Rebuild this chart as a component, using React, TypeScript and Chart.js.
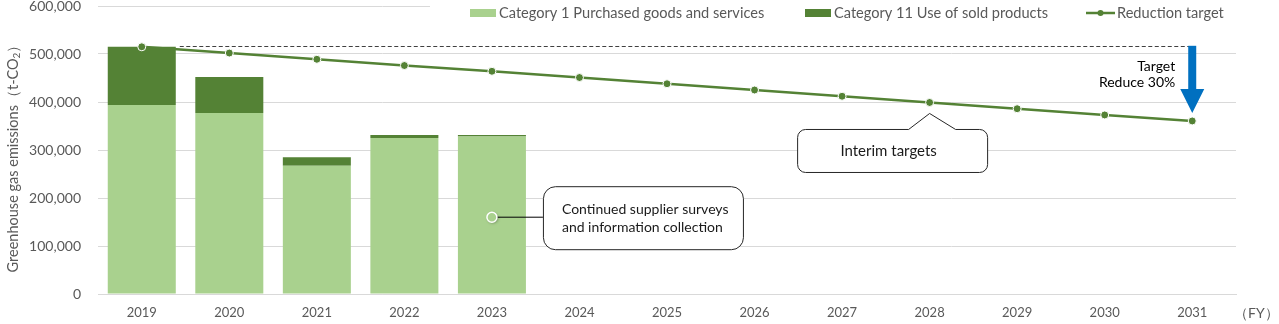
import React, { useEffect, useRef } from "react";
import { Chart, registerables } from "chart.js";

Chart.register(...registerables);

const years = ["2019", "2020", "2021", "2022", "2023", "2024", "2025", "2026", "2027", "2028", "2029", "2030", "2031"];
const category1 = [394000, 377000, 267000, 325000, 328000, null, null, null, null, null, null, null, null];
const category11 = [121000, 75000, 18000, 6000, 3000, null, null, null, null, null, null, null, null];
const reductionTarget = [515000, 502000, 489000, 476000, 464000, 451000, 438000, 425000, 412000, 399000, 386000, 373000, 360500];
const yTickValues = [0, 100000, 200000, 300000, 400000, 500000, 600000];

const legendLabels = ["Category 1 Purchased goods and services", "Category 11 Use of sold products", "Reduction target"];
const yTitle = ["Greenhouse gas emissions（t-CO", "2", "）"];
const xUnit = "（FY）";
const targetNote = ["Target", "Reduce 30%"];
const interimNote = "Interim targets";
const interimIndex = 9;
const supplierNote = ["Continued supplier surveys", "and information collection"];
const supplierIndex = 4;
const supplierValue = 160000;

const LIGHT = "#A9D18E";
const DARK = "#548235";
const GRAY = "#595959";
const FONT = "Lato, 'Open Sans', sans-serif";

function roundRectPath(ctx: CanvasRenderingContext2D, x: number, y: number, w: number, h: number, r: number) {
  ctx.moveTo(x + r, y);
  ctx.lineTo(x + w - r, y);
  ctx.arcTo(x + w, y, x + w, y + r, r);
  ctx.lineTo(x + w, y + h - r);
  ctx.arcTo(x + w, y + h, x + w - r, y + h, r);
  ctx.lineTo(x + r, y + h);
  ctx.arcTo(x, y + h, x, y + h - r, r);
  ctx.lineTo(x, y + r);
  ctx.arcTo(x, y, x + r, y, r);
  ctx.closePath();
}

const overlay = {
  id: "overlay",
  afterDraw(chart: any) {
    const { ctx, scales } = chart;
    const xs = scales.x;
    const ys = scales.y;
    ctx.save();

    // Dashed baseline from 2019 level
    const y0 = ys.getPixelForValue(reductionTarget[0]);
    const xLast = xs.getPixelForValue(years.length - 1);
    const bar0 = chart.getDatasetMeta(1).data[0];
    const barRight = bar0.x + bar0.width / 2;
    ctx.beginPath();
    ctx.setLineDash([4, 2.5]);
    ctx.strokeStyle = "#404040";
    ctx.lineWidth = 1;
    ctx.moveTo(barRight + 4, Math.round(y0) - 0.5);
    ctx.lineTo(xLast, Math.round(y0) - 0.5);
    ctx.stroke();
    ctx.setLineDash([]);

    // Blue arrow
    const yEnd = ys.getPixelForValue(reductionTarget[reductionTarget.length - 1]);
    const tip = yEnd - 8;
    const headTop = tip - 24;
    ctx.fillStyle = "#0070C0";
    ctx.fillRect(xLast - 4, y0 - 1, 8, headTop - y0 + 2);
    ctx.beginPath();
    ctx.moveTo(xLast - 12, headTop);
    ctx.lineTo(xLast + 12, headTop);
    ctx.lineTo(xLast, tip);
    ctx.closePath();
    ctx.fill();

    // Target text
    ctx.fillStyle = "#000000";
    ctx.font = `14px ${FONT}`;
    ctx.textAlign = "right";
    ctx.textBaseline = "middle";
    ctx.fillText(targetNote[0], xLast - 17, y0 + 20);
    ctx.fillText(targetNote[1], xLast - 17, y0 + 36);

    // Interim targets callout
    const px = xs.getPixelForValue(interimIndex);
    const py = ys.getPixelForValue(reductionTarget[interimIndex]);
    const cTip = py + 11;
    const bTop = cTip + 16;
    const bLeft = px - 132;
    const bW = 190;
    const bH = 43;
    const r = 8;
    ctx.beginPath();
    ctx.moveTo(bLeft + r, bTop);
    ctx.lineTo(px - 21, bTop);
    ctx.lineTo(px, cTip);
    ctx.lineTo(px + 26, bTop);
    ctx.lineTo(bLeft + bW - r, bTop);
    ctx.arcTo(bLeft + bW, bTop, bLeft + bW, bTop + r, r);
    ctx.lineTo(bLeft + bW, bTop + bH - r);
    ctx.arcTo(bLeft + bW, bTop + bH, bLeft + bW - r, bTop + bH, r);
    ctx.lineTo(bLeft + r, bTop + bH);
    ctx.arcTo(bLeft, bTop + bH, bLeft, bTop + bH - r, r);
    ctx.lineTo(bLeft, bTop + r);
    ctx.arcTo(bLeft, bTop, bLeft + r, bTop, r);
    ctx.closePath();
    ctx.fillStyle = "#ffffff";
    ctx.fill();
    ctx.strokeStyle = "#262626";
    ctx.lineWidth = 1;
    ctx.stroke();
    ctx.fillStyle = "#1a1a1a";
    ctx.textAlign = "center";
    ctx.font = `15px ${FONT}`;
    ctx.fillText(interimNote, bLeft + bW / 2 - 4, bTop + bH / 2);

    // Supplier callout
    const sx = xs.getPixelForValue(supplierIndex);
    const sy = ys.getPixelForValue(supplierValue);
    const sLeft = sx + 51;
    const sTop = sy - 31;
    ctx.beginPath();
    ctx.moveTo(sx + 5, sy);
    ctx.lineTo(sLeft, sy);
    ctx.strokeStyle = "#000000";
    ctx.lineWidth = 1;
    ctx.stroke();
    ctx.beginPath();
    roundRectPath(ctx, sLeft + 0.5, sTop + 0.5, 200, 63, 12);
    ctx.fillStyle = "#ffffff";
    ctx.fill();
    ctx.strokeStyle = "#262626";
    ctx.stroke();
    ctx.fillStyle = "#1a1a1a";
    ctx.textAlign = "left";
    ctx.font = `14px ${FONT}`;
    ctx.fillText(supplierNote[0], sLeft + 19, sTop + 23);
    ctx.fillText(supplierNote[1], sLeft + 19, sTop + 41);
    ctx.save();
    ctx.shadowColor = "rgba(0,0,0,0.35)";
    ctx.shadowBlur = 3;
    ctx.shadowOffsetX = 1;
    ctx.shadowOffsetY = 1;
    ctx.beginPath();
    ctx.arc(sx, sy, 5, 0, Math.PI * 2);
    ctx.fillStyle = LIGHT;
    ctx.fill();
    ctx.restore();
    ctx.beginPath();
    ctx.arc(sx, sy, 5, 0, Math.PI * 2);
    ctx.strokeStyle = "#ffffff";
    ctx.lineWidth = 1.5;
    ctx.stroke();

    // Legend
    ctx.fillStyle = "#ffffff";
    ctx.fillRect(430, 0, 810, 22);
    ctx.font = `14.6px ${FONT}`;
    ctx.textAlign = "left";
    ctx.textBaseline = "middle";
    ctx.fillStyle = LIGHT;
    ctx.fillRect(470, 9, 26, 8);
    ctx.fillStyle = GRAY;
    ctx.fillText(legendLabels[0], 499, 13);
    ctx.fillStyle = DARK;
    ctx.fillRect(805, 9, 26, 8);
    ctx.fillStyle = GRAY;
    ctx.fillText(legendLabels[1], 834, 13);
    ctx.strokeStyle = DARK;
    ctx.lineWidth = 2.5;
    ctx.beginPath();
    ctx.moveTo(1086, 13);
    ctx.lineTo(1115, 13);
    ctx.stroke();
    ctx.beginPath();
    ctx.arc(1100.5, 13, 3, 0, Math.PI * 2);
    ctx.fillStyle = DARK;
    ctx.fill();
    ctx.fillStyle = GRAY;
    ctx.fillText(legendLabels[2], 1117, 13);

    // Y title
    ctx.save();
    ctx.translate(13, 155);
    ctx.rotate(-Math.PI / 2);
    ctx.font = `14.5px ${FONT}`;
    const w1 = ctx.measureText(yTitle[0]).width;
    ctx.font = `10px ${FONT}`;
    const w2 = ctx.measureText(yTitle[1]).width;
    ctx.font = `14.5px ${FONT}`;
    const w3 = ctx.measureText(yTitle[2]).width;
    const total = w1 + w2 + w3;
    let cx = -total / 2;
    ctx.fillStyle = GRAY;
    ctx.textAlign = "left";
    ctx.textBaseline = "middle";
    ctx.fillText(yTitle[0], cx, 0);
    cx += w1;
    ctx.font = `10px ${FONT}`;
    ctx.fillText(yTitle[1], cx, 4);
    cx += w2;
    ctx.font = `14.5px ${FONT}`;
    ctx.fillText(yTitle[2], cx, 0);
    ctx.restore();

    // X unit
    ctx.font = `14px ${FONT}`;
    ctx.fillStyle = GRAY;
    ctx.textAlign = "left";
    ctx.textBaseline = "middle";
    ctx.fillText(xUnit, 1234, 313);

    ctx.restore();
  },
};

export default function App() {
  const ref = useRef<HTMLCanvasElement | null>(null);
  useEffect(() => {
    if (!ref.current) return;
    const chart = new Chart(ref.current, {
      type: "bar",
      data: {
        labels: years,
        datasets: [
          {
            type: "line",
            label: legendLabels[2],
            data: reductionTarget,
            borderColor: DARK,
            backgroundColor: DARK,
            borderWidth: 2.5,
            pointRadius: 4,
            pointBorderColor: "#ffffff",
            pointBorderWidth: 1,
            pointBackgroundColor: DARK,
            stack: "line",
            order: 0,
          } as any,
          {
            label: legendLabels[0],
            data: category1,
            backgroundColor: LIGHT,
            stack: "bars",
            order: 1,
          },
          {
            label: legendLabels[1],
            data: category11,
            backgroundColor: DARK,
            stack: "bars",
            order: 1,
          },
        ],
      },
      options: {
        responsive: false,
        animation: false,
        datasets: { bar: { categoryPercentage: 1, barPercentage: 0.777 } },
        layout: { padding: { left: 0, right: 43, top: 6, bottom: 0 } },
        plugins: { legend: { display: false }, tooltip: { enabled: false } },
        scales: {
          x: {
            stacked: true,
            grid: { display: false, drawTicks: false },
            border: { display: true, color: "#d9d9d9", width: 1 },
            ticks: { color: GRAY, font: { family: FONT, size: 13 }, padding: 11, maxRotation: 0 },
            afterFit: (s: any) => { s.height = 30; },
          },
          y: {
            stacked: true,
            min: 0,
            max: 600000,
            afterBuildTicks: (s: any) => { s.ticks = yTickValues.map((v) => ({ value: v })); },
            grid: { color: "#d9d9d9", drawTicks: false },
            border: { display: false },
            ticks: {
              color: GRAY,
              font: { family: FONT, size: 14 },
              padding: 17,
              callback: (v: any) => Number(v).toLocaleString("en-US"),
            },
            afterFit: (s: any) => { s.width = 98; s.paddingTop = 0; s.paddingBottom = 0; },
          },
        },
      },
      plugins: [overlay],
    });
    return () => chart.destroy();
  }, []);
  return (
    <div style={{ position: "absolute", left: 0, top: 0, width: 1279, height: 324, background: "#ffffff" }}>
      <canvas ref={ref} width={1279} height={324} />
    </div>
  );
}
